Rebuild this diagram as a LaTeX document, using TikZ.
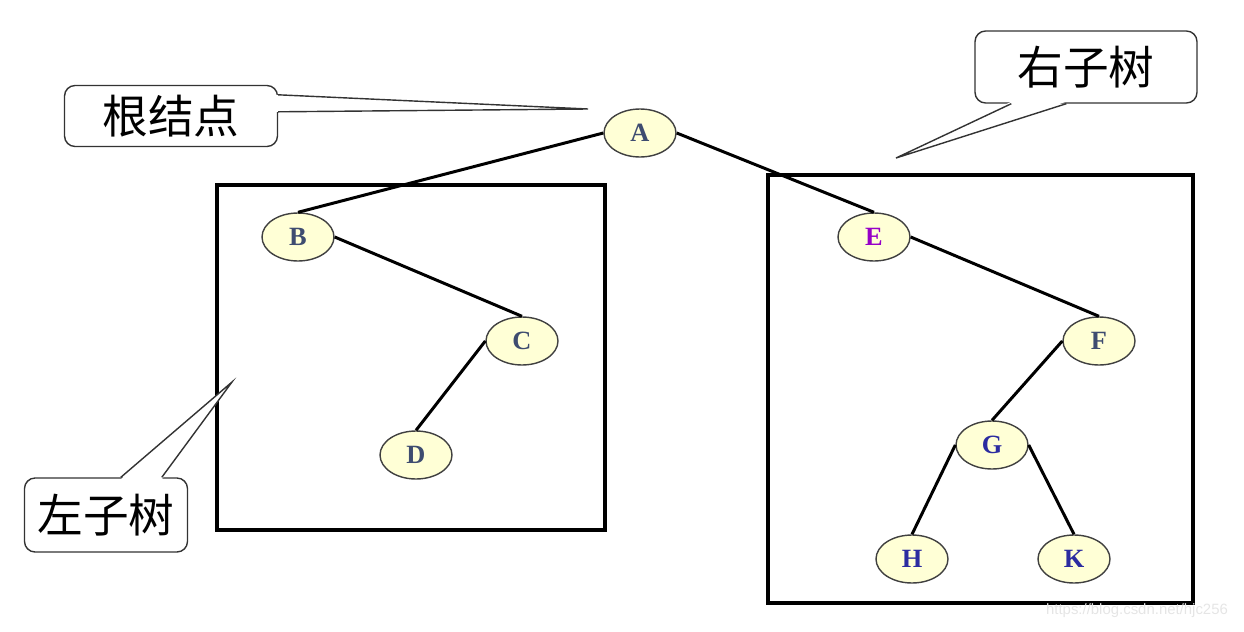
\documentclass[tikz,border=0pt]{standalone}
\usepackage{fontspec}
\setmainfont{Liberation Serif}
\newfontfamily\cjk{Noto Sans CJK SC}
\newfontfamily\wmfont{Liberation Sans}
\usepackage{tikz}
\usetikzlibrary{shapes,calc}
\definecolor{cream}{RGB}{255,255,214}
\definecolor{slate}{RGB}{62,76,112}
\definecolor{violetE}{RGB}{150,0,200}
\definecolor{navy}{RGB}{44,44,160}

\begin{document}
\begin{tikzpicture}[x=0.02cm,y=-0.02cm]
	\tikzset{tnode/.style={ellipse,draw=black!75,line width=0.8pt,fill=cream,minimum width=1.44cm,minimum height=0.96cm,inner sep=0pt,font=\fontsize{15}{15}\selectfont\bfseries,text=slate}}
	\tikzset{tedge/.style={line width=1.7pt}}
	\tikzset{subbox/.style={draw,line width=1.9pt}}
	\tikzset{tag/.style={draw=black!80,line width=0.8pt,rounded corners=6pt,fill=white,inner sep=0pt,font=\cjk\fontsize{26}{26}\selectfont}}
	\tikzset{pointer/.style={draw=black!80,line width=0.8pt}}
	\useasboundingbox (0,0) rectangle (1244,632);
	% subtree boxes
	\draw[subbox] (217,185) rectangle (605,530);
	\draw[subbox] (768,175) rectangle (1193,603);
	% tree nodes
	\node[tnode] (A) at (640,133) {A};
	\node[tnode] (B) at (298,237) {B};
	\node[tnode] (C) at (522,341) {C};
	\node[tnode] (D) at (416,455) {D};
	\node[tnode,text=violetE] (E) at (874,237) {E};
	\node[tnode] (F) at (1099,341) {F};
	\node[tnode,text=navy] (G) at (992,445) {G};
	\node[tnode,text=navy] (H) at (912,559) {H};
	\node[tnode,text=navy] (K) at (1074,559) {K};
	% edges
	\draw[tedge] (A.west) -- (B.north);
	\draw[tedge] (A.east) -- (E.north);
	\draw[tedge] (B.east) -- (C.north);
	\draw[tedge] (C.west) -- (D.north);
	\draw[tedge] (E.east) -- (F.north);
	\draw[tedge] (F.west) -- (G.north);
	\draw[tedge] (G.west) -- (H.north);
	\draw[tedge] (G.east) -- (K.north);
	% callouts
	\node[tag,minimum width=4.26cm,minimum height=1.22cm] (lroot) at (171,116) {根结点};
	\coordinate (troot) at (588,109);
	\fill[white] ($(lroot.north east)+(-2,10)$) -- (troot) -- ($(lroot.north east)+(-2,27)$) -- cycle;
	\draw[pointer] ($(lroot.north east)+(0,10)$) -- (troot) -- ($(lroot.north east)+(0,27)$);
	\node[tag,minimum width=4.44cm,minimum height=1.44cm] (lright) at (1086,67) {右子树};
	\coordinate (tright) at (896,158);
	\fill[white] ($(lright.south west)+(37,-2)$) -- (tright) -- ($(lright.south west)+(92,-2)$) -- cycle;
	\draw[pointer] ($(lright.south west)+(37,0)$) -- (tright) -- ($(lright.south west)+(92,0)$);
	\node[tag,minimum width=3.26cm,minimum height=1.48cm] (lleft) at (106,515) {左子树};
	\coordinate (tleft) at (232,382);
	\fill[white] ($(lleft.north west)+(97,2)$) -- (tleft) -- ($(lleft.north west)+(138,2)$) -- cycle;
	\draw[pointer] ($(lleft.north west)+(97,0)$) -- (tleft) -- ($(lleft.north west)+(138,0)$);
	% watermark
	\node[font=\wmfont\fontsize{8.5}{8.5}\selectfont,text=black!10] (wm) at (1137,611) {https://blog.csdn.net/hjc256};
\end{tikzpicture}
\end{document}
